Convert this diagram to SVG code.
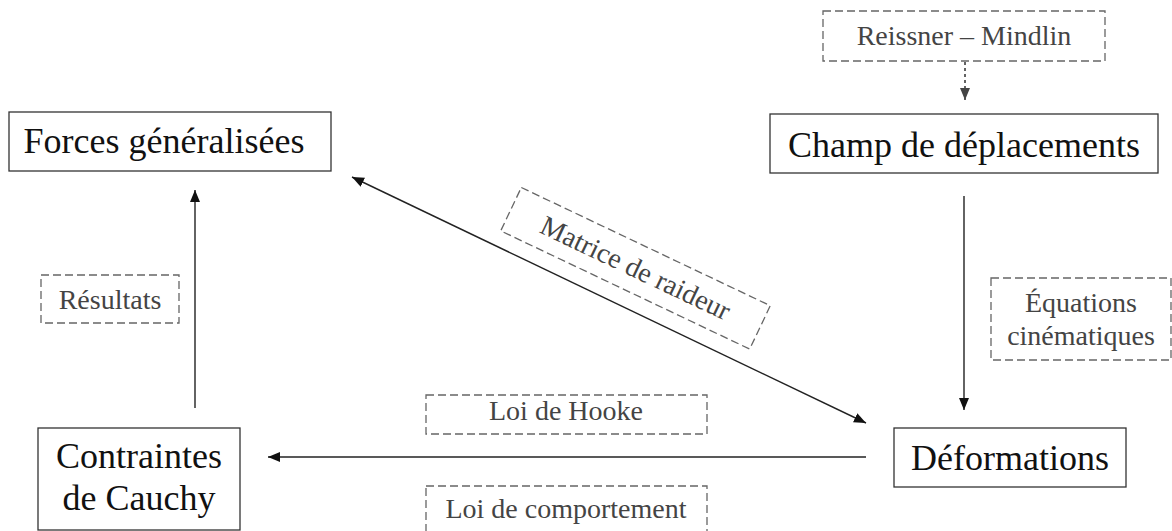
<svg xmlns="http://www.w3.org/2000/svg" width="1172" height="531" viewBox="0 0 1172 531">
  <style>
    .node { fill: #fff; stroke: #333; stroke-width: 1.3; }
    .lbl { fill: none; stroke: #666; stroke-width: 1.3; stroke-dasharray: 8 4; }
    .edge { stroke: #222; stroke-width: 1.4; fill: none; }
  </style>
  <defs>
    <marker id="arrow" viewBox="0 0 12 10" refX="12" refY="5" markerWidth="12" markerHeight="10" markerUnits="userSpaceOnUse" orient="auto-start-reverse">
      <path d="M0,0 L12,5 L0,10 Z" fill="#111"/>
    </marker>
    <marker id="arrowGray" viewBox="0 0 12 10" refX="12" refY="5" markerWidth="12" markerHeight="10" markerUnits="userSpaceOnUse" orient="auto">
      <path d="M0,0 L12,5 L0,10 Z" fill="#444"/>
    </marker>
  </defs>

  <rect width="1172" height="531" fill="#fff"/>

  <!-- connectors -->
  <g id="connectors">
    <line class="edge" x1="965" y1="62" x2="965" y2="100" stroke="#555" stroke-dasharray="3 3" marker-end="url(#arrowGray)"/>
    <line class="edge" x1="964" y1="196" x2="964" y2="410" marker-end="url(#arrow)"/>
    <line class="edge" x1="866" y1="457" x2="268" y2="457" marker-end="url(#arrow)"/>
    <line class="edge" x1="195" y1="408" x2="195" y2="190" marker-end="url(#arrow)"/>
    <line class="edge" x1="352" y1="177" x2="866" y2="423" marker-start="url(#arrow)" marker-end="url(#arrow)"/>
  </g>

  <!-- main nodes: solid frame, serif 36px -->
  <g font-family="Liberation Serif, serif" font-size="36" fill="#111" text-anchor="middle">
    <g id="forces">
      <rect class="node" x="9" y="112" width="322" height="59"/>
      <text x="164" y="153">Forces généralisées</text>
    </g>
    <g id="champ">
      <rect class="node" x="770" y="114" width="388" height="59"/>
      <text x="964" y="157">Champ de déplacements</text>
    </g>
    <g id="deformations">
      <rect class="node" x="894" y="428" width="232" height="59"/>
      <text x="1010" y="470">Déformations</text>
    </g>
    <g id="contraintes">
      <rect class="node" x="38" y="428" width="202" height="102"/>
      <text x="139" y="468">Contraintes</text>
      <text x="139" y="510">de Cauchy</text>
    </g>
  </g>

  <!-- dashed edge labels: grey serif 28px -->
  <g font-family="Liberation Serif, serif" font-size="28" fill="#444" text-anchor="middle">
    <g id="reissner">
      <rect class="lbl" x="823" y="11" width="282" height="50"/>
      <text x="964" y="45">Reissner – Mindlin</text>
    </g>
    <g id="equations">
      <rect class="lbl" x="991" y="278" width="180" height="82"/>
      <text x="1081" y="312">Équations</text>
      <text x="1081" y="345">cinématiques</text>
    </g>
    <g id="hooke">
      <rect class="lbl" x="426" y="395" width="281" height="39"/>
      <text x="566" y="420">Loi de Hooke</text>
    </g>
    <g id="comportement">
      <rect class="lbl" x="426" y="486" width="281" height="60"/>
      <text x="566" y="518">Loi de comportement</text>
    </g>
    <g id="resultats">
      <rect class="lbl" x="41" y="275" width="138" height="48"/>
      <text x="110" y="309">Résultats</text>
    </g>
    <g id="raideur" transform="translate(635.5 268.3) rotate(25.4)">
      <rect class="lbl" x="-137.8" y="-24" width="275.6" height="48"/>
      <text x="0" y="9">Matrice de raideur</text>
    </g>
  </g>
</svg>
